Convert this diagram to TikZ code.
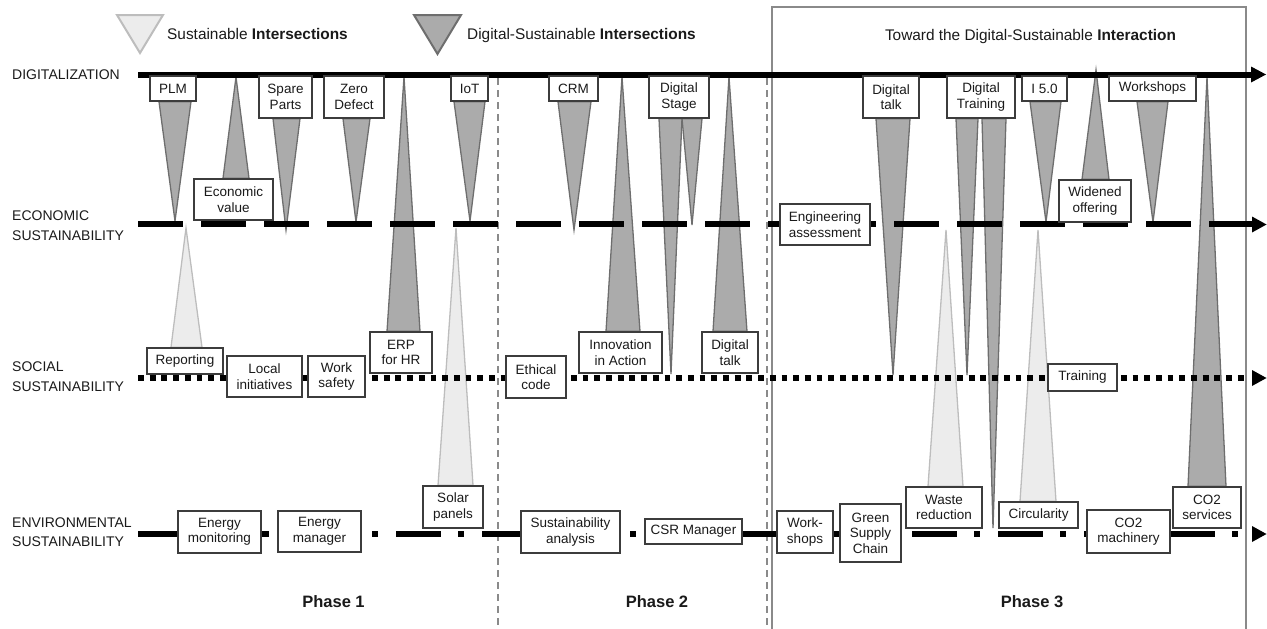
\documentclass[tikz,border=0pt]{standalone}
\usepackage{fontspec}
\setmainfont{Liberation Sans}
\usetikzlibrary{calc}
\pgfdeclarelayer{tri}
\pgfdeclarelayer{axes}
\pgfsetlayers{tri,axes,main}
\definecolor{darkfill}{HTML}{ABABAB}
\definecolor{darkline}{HTML}{6E6E6E}
\definecolor{lightfill}{HTML}{ECECEC}
\definecolor{lightline}{HTML}{BDBDBD}
\definecolor{framegray}{HTML}{8A8A8A}
\definecolor{ink}{HTML}{1A1A1A}
\begin{document}
\begin{tikzpicture}[x=1pt,y=-1pt,
  lbl/.style={draw=ink!85, line width=1.3pt, fill=white, text=ink, inner sep=0pt, align=center, font=\fontsize{13.5}{15.5}\selectfont},
  dtri/.style={fill=darkfill, draw=darkline, line width=1.3pt},
  ltri/.style={fill=lightfill, draw=lightline, line width=1.3pt},
  axisline/.style={line width=6pt, draw=black, line cap=butt},
  axlbl/.style={anchor=base west, text=ink, inner sep=0pt, font=\fontsize{14}{19}\selectfont},
  phaselbl/.style={anchor=base, text=ink, inner sep=0pt, font=\fontsize{16.5}{20}\selectfont\bfseries},
  legtxt/.style={anchor=base west, text=ink, inner sep=0pt, font=\fontsize{15.4}{18}\selectfont},
  vdash/.style={draw=framegray, line width=1.3pt, dash pattern=on 7pt off 5pt},
  tip/.style={fill=black}
]
\useasboundingbox (0,0) rectangle (1267,629);

% ---------- legend and titles ----------
\draw[ltri, line width=2pt] (117,15) -- (163,15) -- (140,53) -- cycle;
\node[legtxt] (leg1) at (167,39) {Sustainable \textbf{Intersections}};
\draw[dtri, line width=2pt] (414,15) -- (461,15) -- (437.5,54) -- cycle;
\node[legtxt] (leg2) at (467,39) {Digital-Sustainable \textbf{Intersections}};
\node[legtxt, anchor=base] (title3) at (1030.5,40.5) {Toward the Digital-Sustainable \textbf{Interaction}};

% ---------- axis labels ----------
\node[axlbl] (ldig) at (12,79) {DIGITALIZATION};
\node[axlbl] (lecon1) at (12,220) {ECONOMIC};
\node[axlbl] (lecon2) at (12,240) {SUSTAINABILITY};
\node[axlbl] (lsoc1) at (12,371.5) {SOCIAL};
\node[axlbl] (lsoc2) at (12,391) {SUSTAINABILITY};
\node[axlbl] (lenv1) at (12,527.5) {ENVIRONMENTAL};
\node[axlbl] (lenv2) at (12,546) {SUSTAINABILITY};

% ---------- phase labels ----------
\node[phaselbl] (ph1) at (333.5,607) {Phase 1};
\node[phaselbl] (ph2) at (657,607) {Phase 2};
\node[phaselbl] (ph3) at (1032,607) {Phase 3};

% ---------- boxes: phase 1 ----------
\node[lbl, minimum width=46pt, minimum height=25pt] (plm) at (173,88.5) {PLM};
\node[lbl, minimum width=79pt, minimum height=41pt] (econval) at (233.5,199.5) {Economic\\value};
\node[lbl, minimum width=53pt, minimum height=42pt] (spare) at (285.5,97) {Spare\\Parts};
\node[lbl, minimum width=60pt, minimum height=42pt] (zero) at (354,97) {Zero\\Defect};
\node[lbl, minimum width=62pt, minimum height=41pt] (erp) at (401,352.5) {ERP\\for HR};
\node[lbl, minimum width=37pt, minimum height=25pt] (iot) at (469.5,88.5) {IoT};
\node[lbl, minimum width=76pt, minimum height=26pt] (report) at (185,361) {Reporting};
\node[lbl, minimum width=75pt, minimum height=41pt] (local) at (264.5,376.5) {Local\\initiatives};
\node[lbl, minimum width=57pt, minimum height=41pt] (safety) at (336.5,376.5) {Work\\safety};
\node[lbl, minimum width=83pt, minimum height=42pt] (enmon) at (219.5,532) {Energy\\monitoring};
\node[lbl, minimum width=83pt, minimum height=41pt] (enman) at (319.5,531.5) {Energy\\manager};
\node[lbl, minimum width=60pt, minimum height=42pt] (solar) at (453,507) {Solar\\panels};

% ---------- boxes: phase 2 ----------
\node[lbl, minimum width=49pt, minimum height=25pt] (crm) at (573.5,88.5) {CRM};
\node[lbl, minimum width=60pt, minimum height=42pt] (dstage) at (679,97) {Digital\\Stage};
\node[lbl, minimum width=60pt, minimum height=42pt] (ethic) at (536,377) {Ethical\\code};
\node[lbl, minimum width=83pt, minimum height=41pt] (innov) at (620.5,352.5) {Innovation\\in Action};
\node[lbl, minimum width=56pt, minimum height=41pt] (dtalkA) at (730,352.5) {Digital\\talk};
\node[lbl, minimum width=99pt, minimum height=42pt] (sustan) at (570.5,532) {Sustainability\\analysis};
\node[lbl, minimum width=97pt, minimum height=25pt] (csr) at (693.5,531.5) {CSR Manager};

% ---------- boxes: phase 3 ----------
\node[lbl, minimum width=90pt, minimum height=41pt] (engass) at (825,224.5) {Engineering\\assessment};
\node[lbl, minimum width=56pt, minimum height=42pt] (dtalkB) at (891,97) {Digital\\talk};
\node[lbl, minimum width=68pt, minimum height=42pt] (dtrain) at (981,97) {Digital\\Training};
\node[lbl, minimum width=45pt, minimum height=25pt] (ifive) at (1044.5,88.5) {I 5.0};
\node[lbl, minimum width=87pt, minimum height=25pt] (workshopsA) at (1152.5,88.5) {Workshops};
\node[lbl, minimum width=72pt, minimum height=42pt] (widened) at (1095,201) {Widened\\offering};
\node[lbl, minimum width=69pt, minimum height=27pt] (training) at (1082.5,377.5) {Training};
\node[lbl, minimum width=56pt, minimum height=42pt] (workshopsB) at (805,532) {Work-\\shops};
\node[lbl, minimum width=61pt, minimum height=58pt] (gsc) at (870.5,533) {Green\\Supply\\Chain};
\node[lbl, minimum width=76pt, minimum height=41pt] (waste) at (944,507.5) {Waste\\reduction};
\node[lbl, minimum width=79pt, minimum height=26pt] (circ) at (1038.5,515) {Circularity};
\node[lbl, minimum width=83pt, minimum height=43pt] (co2m) at (1128.5,531.5) {CO2\\machinery};
\node[lbl, minimum width=68pt, minimum height=41pt] (co2s) at (1207,507.5) {CO2\\services};

% ---------- axes ----------
\coordinate (digS) at (138,74.5);  \coordinate (digE) at (1254,74.5);
\coordinate (ecoS) at (138,224);   \coordinate (ecoE) at (1254,224);
\coordinate (socS) at (138,378);   \coordinate (socE) at (1248,378);
\coordinate (envS) at (138,534);   \coordinate (envE) at (1248,534);

\begin{pgfonlayer}{axes}
  \draw[framegray, line width=1.5pt] (772,640) -- (772,7) -- (1246,7) -- (1246,640);
  \draw[axisline] (digS) -- (digE);
  \draw[axisline, dash pattern=on 45pt off 18pt] (ecoS) -- (ecoE);
  \draw[axisline, dash pattern=on 5.8pt off 5.9pt] (socS) -- (socE);
  \draw[axisline, dash pattern=on 45pt off 17pt on 6pt off 18pt] (envS) -- (envE);
  \fill[tip] (1251,66.5) -- (1266,74.5) -- (1251,82.5) -- cycle;
  \fill[tip] (1252,216.5) -- (1266.5,224.5) -- (1252,232.5) -- cycle;
  \fill[tip] (1252,370) -- (1266.5,378) -- (1252,386) -- cycle;
  \fill[tip] (1252,526) -- (1266.5,534) -- (1252,542) -- cycle;
\end{pgfonlayer}

% ---------- triangles ----------
\begin{pgfonlayer}{tri}
  \draw[vdash] (498,78) -- (498,625);
  \draw[vdash] (767,78) -- (767,625);
  % phase 1
  \draw[dtri] ([xshift=-14pt]plm.south) -- ([xshift=18pt]plm.south) -- (175,221) -- cycle;
  \draw[dtri] ([xshift=-10.5pt]econval.north) -- ([xshift=15.5pt]econval.north) -- (236,77) -- cycle;
  \draw[dtri] ([xshift=-12.5pt]spare.south) -- ([xshift=14.5pt]spare.south) -- (286,230) -- cycle;
  \draw[dtri] ([xshift=-11pt]zero.south) -- ([xshift=16pt]zero.south) -- (356,222) -- cycle;
  \draw[dtri] ([xshift=-14pt]erp.north) -- ([xshift=19pt]erp.north) -- (404,77) -- cycle;
  \draw[dtri] ([xshift=-15.5pt]iot.south) -- ([xshift=15.5pt]iot.south) -- (470,221) -- cycle;
  \draw[ltri] ([xshift=-14pt]report.north) -- ([xshift=17pt]report.north) -- (186,228) -- cycle;
  \draw[ltri] ([xshift=-15pt]solar.north) -- ([xshift=20pt]solar.north) -- (456,228) -- cycle;
  % phase 2
  \draw[dtri] ([xshift=-15.5pt]crm.south) -- ([xshift=17.5pt]crm.south) -- (574,230) -- cycle;
  \draw[dtri] ([xshift=-14.5pt]innov.north) -- ([xshift=19.5pt]innov.north) -- (622,77) -- cycle;
  \draw[dtri] ([xshift=-20pt]dstage.south) -- ([xshift=3pt]dstage.south) -- (671,374) -- cycle;
  \draw[dtri] ([xshift=3pt]dstage.south) -- ([xshift=23pt]dstage.south) -- (692,225) -- cycle;
  \draw[dtri] ([xshift=-17pt]dtalkA.north) -- ([xshift=17pt]dtalkA.north) -- (729,77) -- cycle;
  % phase 3
  \draw[dtri] ([xshift=-15pt]dtalkB.south) -- ([xshift=19pt]dtalkB.south) -- (893,375) -- cycle;
  \draw[dtri] ([xshift=-25pt]dtrain.south) -- ([xshift=-3pt]dtrain.south) -- (967,375) -- cycle;
  \draw[dtri] ([xshift=1pt]dtrain.south) -- ([xshift=25pt]dtrain.south) -- (993,528) -- cycle;
  \draw[ltri] ([xshift=-16pt]waste.north) -- ([xshift=19pt]waste.north) -- (946,230) -- cycle;
  \draw[dtri] ([xshift=-14.5pt]ifive.south) -- ([xshift=16.5pt]ifive.south) -- (1046,222) -- cycle;
  \draw[ltri] ([xshift=-18.5pt]circ.north) -- ([xshift=17.5pt]circ.north) -- (1038,230) -- cycle;
  \draw[dtri] ([xshift=-13pt]widened.north) -- ([xshift=14pt]widened.north) -- (1096,70) -- cycle;
  \draw[dtri] ([xshift=-15.5pt]workshopsA.south) -- ([xshift=15.5pt]workshopsA.south) -- (1153,222) -- cycle;
  \draw[dtri] ([xshift=-19pt]co2s.north) -- ([xshift=19pt]co2s.north) -- (1207,77) -- cycle;
\end{pgfonlayer}
\end{tikzpicture}
\end{document}
